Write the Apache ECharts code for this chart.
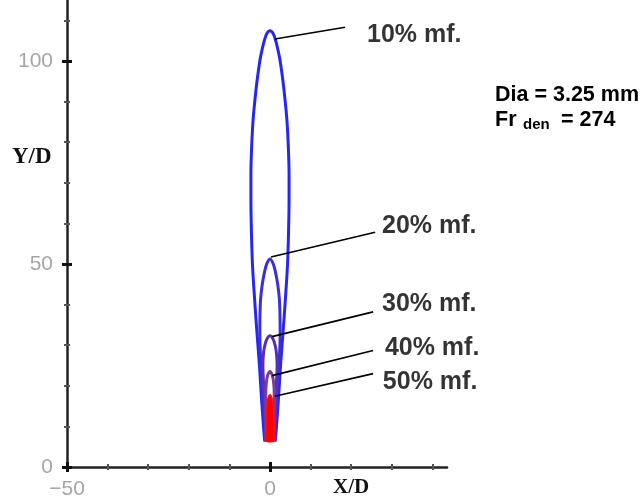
<!DOCTYPE html>
<html>
<head>
<meta charset="utf-8">
<script src="https://cdn.jsdelivr.net/npm/echarts@6/dist/echarts.min.js"></script>
<style>html,body{margin:0;padding:0;background:#fff}#c{width:644px;height:500px}</style>
</head>
<body>
<div id="c"></div>
<script>
// ---- axis values ----
const xMin = -50, xMax = 43.6, yMin = 0, yMax = 115;
const xLabelValues = [-50, 0];
const xMajorTicks = [-50, 0];
const xMinorTicks = [-40, -30, -20, -10, 10, 20, 30, 40];
const yLabelValues = [0, 50, 100];
const yMajorTicks = [0, 50, 100];
const yMinorTicks = [10, 20, 30, 40, 60, 70, 80, 90, 110];

// ---- contour profiles (Y/D heights and half-widths in X/D) ----
const contourNames = ['10% mf.', '20% mf.', '30% mf.', '40% mf.', '50% mf.'];
const c10Y = [6.3, 10, 17, 25, 33, 40, 49.5, 57, 66, 72, 78, 85, 90.5, 95, 100, 103, 105, 106.7, 107.4];
const c10W = [1.3, 1.6, 2.1, 2.6, 3.2, 3.7, 4.3, 4.55, 4.7, 4.7, 4.55, 4.2, 3.7, 3.2, 2.5, 1.9, 1.4, 0.8, 0];
const c20Y = [6.3, 12, 17, 25, 30, 34, 38, 41.5, 45, 48, 50, 51.2];
const c20W = [1.15, 1.4, 1.65, 2.2, 2.45, 2.5, 2.45, 2.3, 1.9, 1.35, 0.8, 0];
const c30Y = [6.3, 12, 17, 22, 25, 28, 30, 31.5, 32.3];
const c30W = [1.05, 1.2, 1.4, 1.65, 1.75, 1.6, 1.25, 0.75, 0];
const c40Y = [6.3, 12, 16, 19.5, 21.5, 22.8, 23.5];
const c40W = [0.95, 1.0, 1.05, 1.0, 0.8, 0.5, 0];
const c50Y = [6.3, 10, 13, 15.5, 16.8, 17.6];
const c50W = [0.9, 0.85, 0.75, 0.58, 0.35, 0];

// ---- leader lines (start on contour, end near label) and label anchors ----
const leaderStart = [[1.2, 105.4], [0.25, 51.7], [0.5, 32.1], [0.5, 22.5], [1.2, 17.4]];
const leaderEnd = [[18.5, 108.3], [25.9, 57.8], [25.4, 38.2], [25.4, 28.7], [25.4, 23.0]];
const labelAnchor = [[23.9, 106.4], [27.6, 59.3], [27.6, 40.0], [28.3, 29.4], [27.8, 20.8]];

const profiles = [[c10Y, c10W], [c20Y, c20W], [c30Y, c30W], [c40Y, c40W], [c50Y, c50W]];
const colors = ['#2626f8', '#3a2fdc', '#5a2fb4', '#7a3a9e', '#ff1010'];

function loop(ys, ws) {
  const pts = [];
  for (let i = 0; i < ys.length; i++) pts.push([ws[i], ys[i]]);
  for (let i = ys.length - 2; i >= 0; i--) pts.push([-ws[i], ys[i]]);
  return pts;
}

const series = [];
profiles.forEach((p, i) => {
  series.push({
    type: 'line', name: contourNames[i], data: loop(p[0], p[1]),
    symbol: 'none', smooth: 0.35, lineStyle: { color: colors[i], width: 3 },
    z: 2 + i, silent: true
  });
});
// red fill of the 50% region
series.push({
  type: 'custom', renderItem: function (params, api) {
    const pts = loop(c50Y, c50W).map(d => api.coord(d));
    return { type: 'polygon', shape: { points: pts, smooth: 0.3 }, style: { fill: '#ff0000' } };
  }, data: [[0, 0]], z: 8, silent: true
});
leaderStart.forEach((s, i) => {
  series.push({
    type: 'line', data: [s, leaderEnd[i]], symbol: 'none',
    lineStyle: { color: '#000', width: 1.6 }, z: 10, silent: true
  });
});
series.push({
  type: 'scatter', symbolSize: 0, z: 11, silent: true,
  data: labelAnchor.map((a, i) => [a[0], a[1], contourNames[i]]),
  label: {
    show: true, position: 'right', distance: 0, formatter: p => p.value[2],
    fontFamily: 'Liberation Sans, Arial, sans-serif', fontWeight: 'bold', fontSize: 25, color: '#000'
  }
});

function mkAxis(pos, min, max, opts) {
  return Object.assign({
    type: 'value', min: min, max: max, gridIndex: 0, position: pos, offset: 0,
    splitLine: { show: false }, axisLine: { show: false, onZero: false },
    axisLabel: { show: false }, axisTick: { show: false }
  }, opts);
}
const tickLabelStyle = { fontFamily: 'Liberation Sans, Arial, sans-serif', fontSize: 21, color: '#a6a6a6' };
const minus = v => String(v).replace('-', '\u2212');
const minorStyle = { color: '#555', width: 2 };
const majorStyle = { color: '#111', width: 3 };

const xAxes = [
  mkAxis('bottom', xMin, xMax, {
    axisLine: { show: true, onZero: false, lineStyle: { color: '#222', width: 2.5 } },
    axisTick: { show: true, customValues: xMinorTicks, length: 3, lineStyle: minorStyle },
    axisLabel: Object.assign({ show: true, customValues: xLabelValues, margin: 12, formatter: minus }, tickLabelStyle)
  }),
  mkAxis('bottom', xMin, xMax, { axisTick: { show: true, inside: true, customValues: xMinorTicks, length: 3, lineStyle: minorStyle } }),
  mkAxis('bottom', xMin, xMax, { axisTick: { show: true, customValues: xMajorTicks, length: 5, lineStyle: majorStyle } }),
  mkAxis('bottom', xMin, xMax, { axisTick: { show: true, inside: true, customValues: xMajorTicks, length: 5, lineStyle: majorStyle } })
];
const yAxes = [
  mkAxis('left', yMin, yMax, {
    axisLine: { show: true, onZero: false, lineStyle: { color: '#222', width: 2.5 } },
    axisTick: { show: true, customValues: yMinorTicks, length: 3, lineStyle: minorStyle },
    axisLabel: Object.assign({ show: true, customValues: yLabelValues, margin: 14, formatter: minus }, tickLabelStyle)
  }),
  mkAxis('left', yMin, yMax, { axisTick: { show: true, inside: true, customValues: yMinorTicks, length: 3, lineStyle: minorStyle } }),
  mkAxis('left', yMin, yMax, { axisTick: { show: true, customValues: yMajorTicks, length: 5, lineStyle: majorStyle } }),
  mkAxis('left', yMin, yMax, { axisTick: { show: true, inside: true, customValues: yMajorTicks, length: 5, lineStyle: majorStyle } })
];

const chart = echarts.init(document.getElementById('c'), null, { renderer: 'canvas' });
chart.setOption({
  animation: false,
  backgroundColor: '#fff',
  grid: { left: 67, top: 0, width: 380, height: 469, containLabel: false },
  xAxis: xAxes,
  yAxis: yAxes,
  series: series,
  graphic: [
    { type: 'text', left: 12, top: 146, style: { text: 'Y/D', font: 'bold 23px "Liberation Serif", "Times New Roman", serif', fill: '#111' } },
    { type: 'text', left: 333, top: 477, style: { text: 'X/D', font: 'bold 21px "Liberation Serif", "Times New Roman", serif', fill: '#111' } },
    { type: 'text', left: 495, top: 84, style: { text: 'Dia = 3.25 mm', font: 'bold 21.5px "Liberation Sans", Arial, sans-serif', fill: '#000' } },
    { type: 'text', left: 495, top: 109, style: { text: 'Fr', font: 'bold 21.5px "Liberation Sans", Arial, sans-serif', fill: '#000' } },
    { type: 'text', left: 523, top: 117, style: { text: 'den', font: 'bold 15px "Liberation Sans", Arial, sans-serif', fill: '#000' } },
    { type: 'text', left: 561, top: 109, style: { text: '= 274', font: 'bold 21.5px "Liberation Sans", Arial, sans-serif', fill: '#000' } }
  ]
});
</script>
</body>
</html>
